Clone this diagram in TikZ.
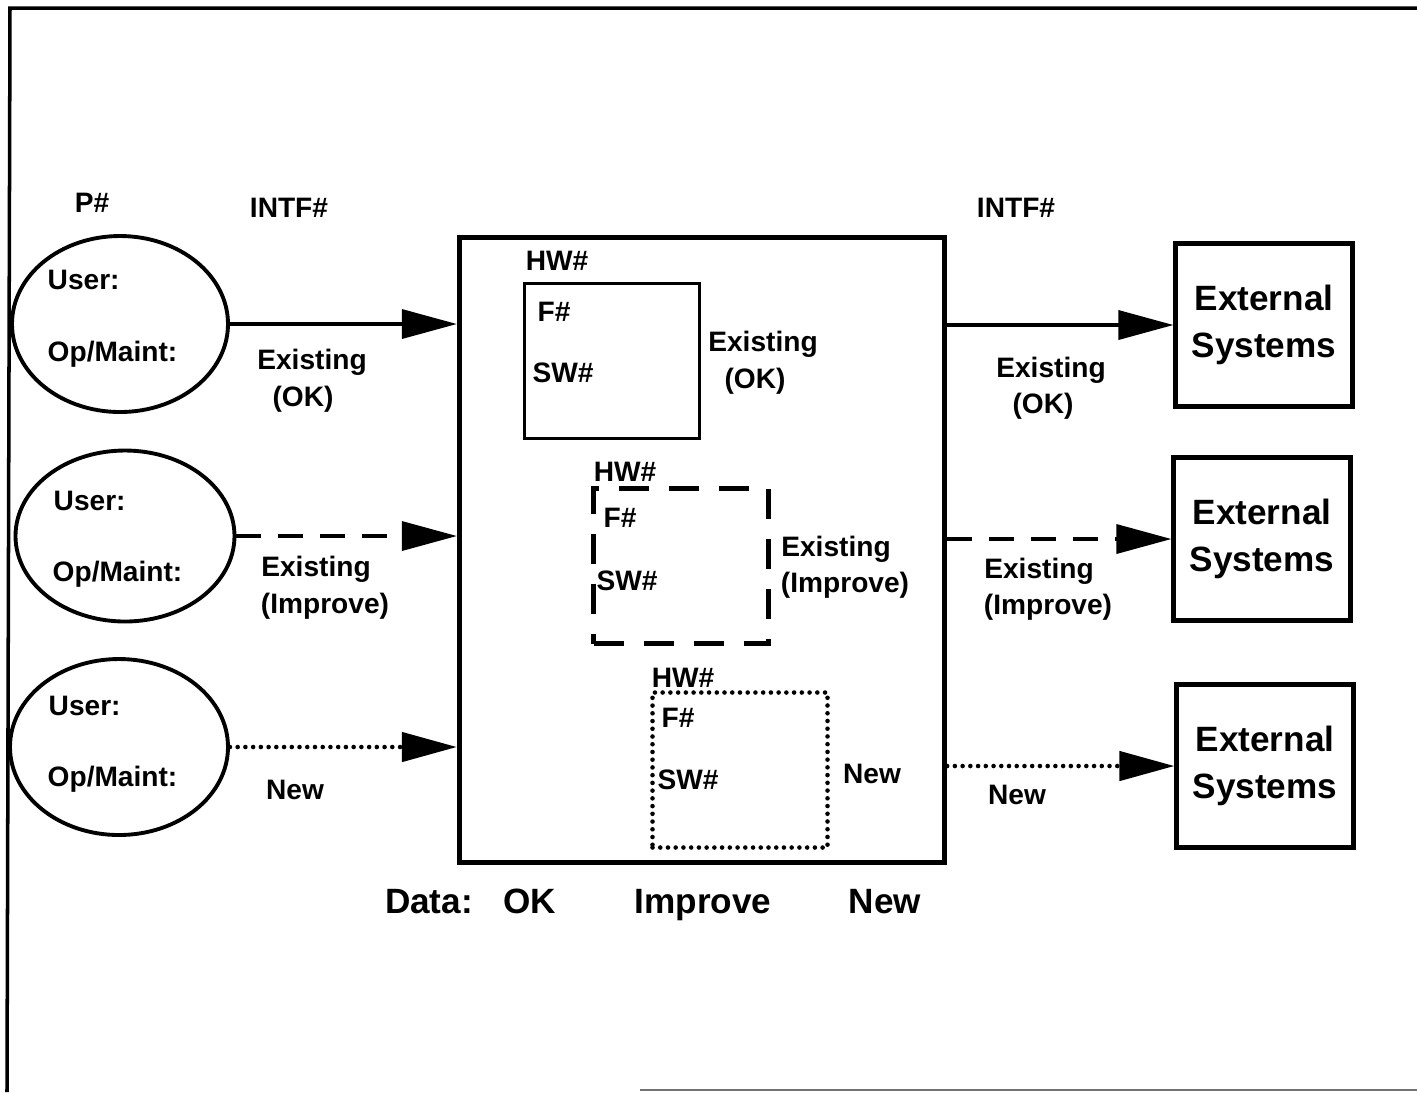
\documentclass[tikz,border=0pt]{standalone}
\usepackage{fontspec}
\setmainfont{Liberation Sans}
\usetikzlibrary{positioning, arrows.meta, shapes.geometric}

\begin{document}
\begin{tikzpicture}[
  x=0.1mm, y=-0.1mm,
  every node/.style={font=\fontsize{8}{9.6}\selectfont\bfseries, inner sep=0pt},
  user/.style={ellipse, draw, line width=1.1pt, inner sep=0pt},
  unit/.style={draw, line width=1.1pt, minimum width=1.75cm, minimum height=1.55cm},
  extsys/.style={draw, line width=1.2pt, minimum width=1.77cm, minimum height=1.63cm,
                 align=center, font=\fontsize{10}{13.4}\selectfont\bfseries},
  flow/.style={line width=1pt, -{Triangle[length=5.5mm, width=2.9mm]}},
  okflow/.style={solid},
  impflow/.style={dash pattern=on 2.5mm off 1.7mm},
  newflow/.style={dash pattern=on 0pt off 2.2pt, line cap=round, line width=1.3pt},
  datalbl/.style={anchor=base, font=\fontsize{10}{12}\selectfont\bfseries},
]
  \useasboundingbox (0,0) rectangle (1417,1092);

  % Frame
  \draw[line width=1pt] (1417,8) -- (10,8) -- (7,1092);
  \draw[line width=0.7pt, black!55] (640,1090) -- (1417,1090);

  % Headings
  \node (phead) at (92,203) {P\#};
  \node (intfl) at (289,208) {INTF\#};
  \node (intfr) at (1016,208) {INTF\#};

  % Users
  \node[user, minimum width=2.16cm, minimum height=1.76cm] (u1) at (120,324) {};
  \node[user, minimum width=2.19cm, minimum height=1.71cm] (u2) at (125,536) {};
  \node[user, minimum width=2.18cm, minimum height=1.76cm] (u3) at (119,747) {};
  \node[anchor=west] (u1a) at (47,280) {User:};
  \node[anchor=west] (u1b) at (47,354) {Op/Maint:};
  \node[anchor=west] (u2a) at (53,501) {User:};
  \node[anchor=west] (u2b) at (52,574) {Op/Maint:};
  \node[anchor=west] (u3a) at (48,706) {User:};
  \node[anchor=west] (u3b) at (47,779) {Op/Maint:};

  % Hardware
  \node[draw, line width=1.5pt, minimum width=4.85cm, minimum height=6.25cm] (hw) at (702,550) {};

  \node[unit] (f1) at (612,361) {};
  \node (f1hw) at (557,261) {HW\#};
  \node (f1f) at (554,312) {F\#};
  \node (f1sw) at (563,373) {SW\#};

  \node[unit, line width=1.4pt, dash pattern=on 3mm off 2mm] (f2) at (681,566) {};
  \node (f2hw) at (625,472) {HW\#};
  \node (f2f) at (620,518) {F\#};
  \node (f2sw) at (627,581) {SW\#};

  \node[unit, newflow] (f3) at (740,770) {};
  \node (f3hw) at (683,678) {HW\#};
  \node (f3f) at (678,718) {F\#};
  \node (f3sw) at (688,780) {SW\#};

  \node (f1l1) at (763,344) {Existing};
  \node (f1l2) at (755,381) {(OK)};
  \node (f2l1) at (836,549) {Existing};
  \node (f2l2) at (845,585) {(Improve)};
  \node (f3l1) at (872,774) {New};

  % External systems
  \node[extsys] (e1) at (1264,325) {External\\Systems};
  \node[extsys] (e2) at (1262,539) {External\\Systems};
  \node[extsys] (e3) at (1265,766) {External\\Systems};

  % Arrows
  \draw[flow, okflow] (u1.east) -- (u1.east -| hw.west);
  \draw[flow, impflow] (u2.east) -- (u2.east -| hw.west);
  \draw[flow, newflow] (u3.east) -- (u3.east -| hw.west);
  \draw[flow, okflow] (hw.east |- e1.west) -- (e1.west);
  \draw[flow, impflow] (hw.east |- e2.west) -- (e2.west);
  \draw[flow, newflow] (hw.east |- e3.west) -- (e3.west);

  % Interface labels
  \node (l1a) at (312,362) {Existing};
  \node (l1b) at (303,399) {(OK)};
  \node (l2a) at (316,569) {Existing};
  \node (l2b) at (325,606) {(Improve)};
  \node (l3a) at (295,790) {New};
  \node (r1a) at (1051,370) {Existing};
  \node (r1b) at (1043,406) {(OK)};
  \node (r2a) at (1039,571) {Existing};
  \node (r2b) at (1048,607) {(Improve)};
  \node (r3a) at (1017,795) {New};

  % Data
  \node[datalbl] (dlbl) at (429,913) {Data:};
  \node[datalbl] (dok) at (530,913) {OK};
  \node[datalbl] (dimp) at (703,913) {Improve};
  \node[datalbl] (dnew) at (885,913) {New};
\end{tikzpicture}
\end{document}
